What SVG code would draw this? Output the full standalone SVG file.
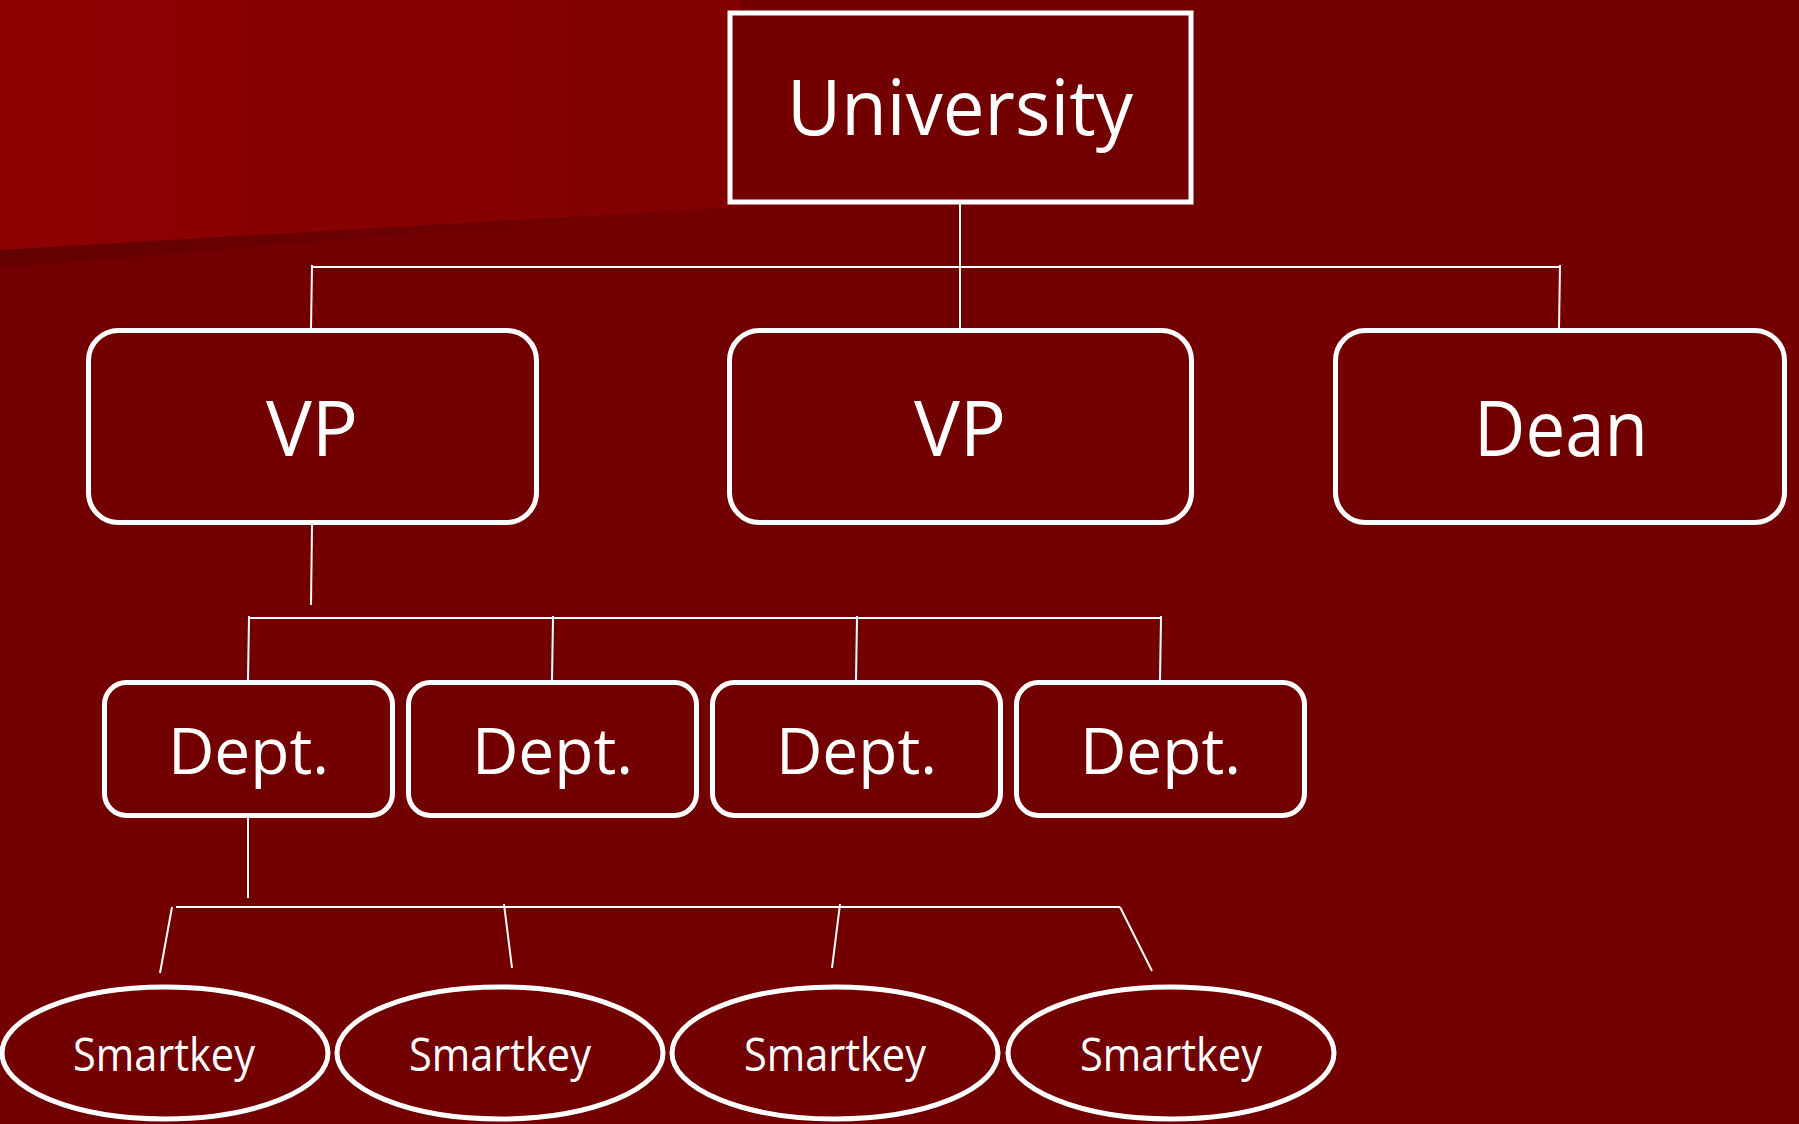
<svg xmlns="http://www.w3.org/2000/svg" width="1799" height="1124" viewBox="0 0 1799 1124">
  <defs>
    <linearGradient id="lightBg" x1="0" y1="0" x2="1" y2="0">
      <stop offset="0" stop-color="#8d0000"/>
      <stop offset="1" stop-color="#820000"/>
    </linearGradient>
    <linearGradient id="shadow" x1="0" y1="0" x2="1" y2="0">
      <stop offset="0" stop-color="#640000"/>
      <stop offset="1" stop-color="#720000"/>
    </linearGradient>
  </defs>
  <style>
    .node { fill: #720000; stroke: #ffffff; stroke-width: 5; }
    .lbl { fill: #ffffff; font-family: "Open Sans", "Liberation Sans", sans-serif; text-anchor: middle; }
    .big { font-size: 77px; }
    .mid { font-size: 64px; }
    .small { font-size: 45px; }
    .conn { fill: none; stroke: #ffffff; stroke-width: 2; }
  </style>

  <rect x="0" y="0" width="1799" height="1124" fill="#720000"/>
  <polygon points="0,0 740,0 740,207 0,250" fill="url(#lightBg)"/>
  <polygon points="0,250 740,207 0,268" fill="url(#shadow)"/>

  <g id="connectors">
    <path class="conn" d="M960 204 L960 329"/>
    <path class="conn" d="M312 267 L1560 267"/>
    <path class="conn" d="M312 265 L311 329"/>
    <path class="conn" d="M1560 265 L1559 329"/>
    <path class="conn" d="M312 525 L311 605"/>
    <path class="conn" d="M249 618 L1161 618"/>
    <path class="conn" d="M249 616 L248 681"/>
    <path class="conn" d="M553 616 L552 681"/>
    <path class="conn" d="M857 616 L856 681"/>
    <path class="conn" d="M1161 616 L1160 681"/>
    <path class="conn" d="M248 818 L248 898"/>
    <path class="conn" d="M176 907 L1120 907"/>
    <path class="conn" d="M172 907 L160 973"/>
    <path class="conn" d="M504 904 L512 968"/>
    <path class="conn" d="M840 904 L832 968"/>
    <path class="conn" d="M1120 907 L1152 971"/>
  </g>

  <g id="university">
    <rect class="node" x="730" y="13" width="461" height="189"/>
    <text class="lbl big" x="960" y="135" textLength="346" lengthAdjust="spacingAndGlyphs">University</text>
  </g>
  <g id="vp1">
    <rect class="node" x="88.5" y="330.5" width="448" height="192" rx="30"/>
    <text class="lbl big" x="312" y="456">VP</text>
  </g>
  <g id="vp2">
    <rect class="node" x="729.5" y="330.5" width="462" height="192" rx="30"/>
    <text class="lbl big" x="960" y="456">VP</text>
  </g>
  <g id="dean">
    <rect class="node" x="1335.5" y="330.5" width="449" height="192" rx="30"/>
    <text class="lbl big" x="1561" y="456" textLength="174" lengthAdjust="spacingAndGlyphs">Dean</text>
  </g>

  <g id="dept1">
    <rect class="node" x="104.5" y="682.5" width="288" height="133" rx="22"/>
    <text class="lbl mid" x="248.5" y="774">Dept.</text>
  </g>
  <g id="dept2">
    <rect class="node" x="408.5" y="682.5" width="288" height="133" rx="22"/>
    <text class="lbl mid" x="552.5" y="774">Dept.</text>
  </g>
  <g id="dept3">
    <rect class="node" x="712.5" y="682.5" width="288" height="133" rx="22"/>
    <text class="lbl mid" x="856.5" y="774">Dept.</text>
  </g>
  <g id="dept4">
    <rect class="node" x="1016.5" y="682.5" width="288" height="133" rx="22"/>
    <text class="lbl mid" x="1160.5" y="774">Dept.</text>
  </g>

  <g id="smartkey1">
    <ellipse class="node" cx="165" cy="1053" rx="163" ry="66"/>
    <text class="lbl small" x="164" y="1071" textLength="182" lengthAdjust="spacingAndGlyphs">Smartkey</text>
  </g>
  <g id="smartkey2">
    <ellipse class="node" cx="500" cy="1053" rx="163" ry="66"/>
    <text class="lbl small" x="500" y="1071" textLength="182" lengthAdjust="spacingAndGlyphs">Smartkey</text>
  </g>
  <g id="smartkey3">
    <ellipse class="node" cx="835" cy="1053" rx="163" ry="66"/>
    <text class="lbl small" x="835" y="1071" textLength="182" lengthAdjust="spacingAndGlyphs">Smartkey</text>
  </g>
  <g id="smartkey4">
    <ellipse class="node" cx="1171" cy="1053" rx="163" ry="66"/>
    <text class="lbl small" x="1171" y="1071" textLength="182" lengthAdjust="spacingAndGlyphs">Smartkey</text>
  </g>
</svg>
